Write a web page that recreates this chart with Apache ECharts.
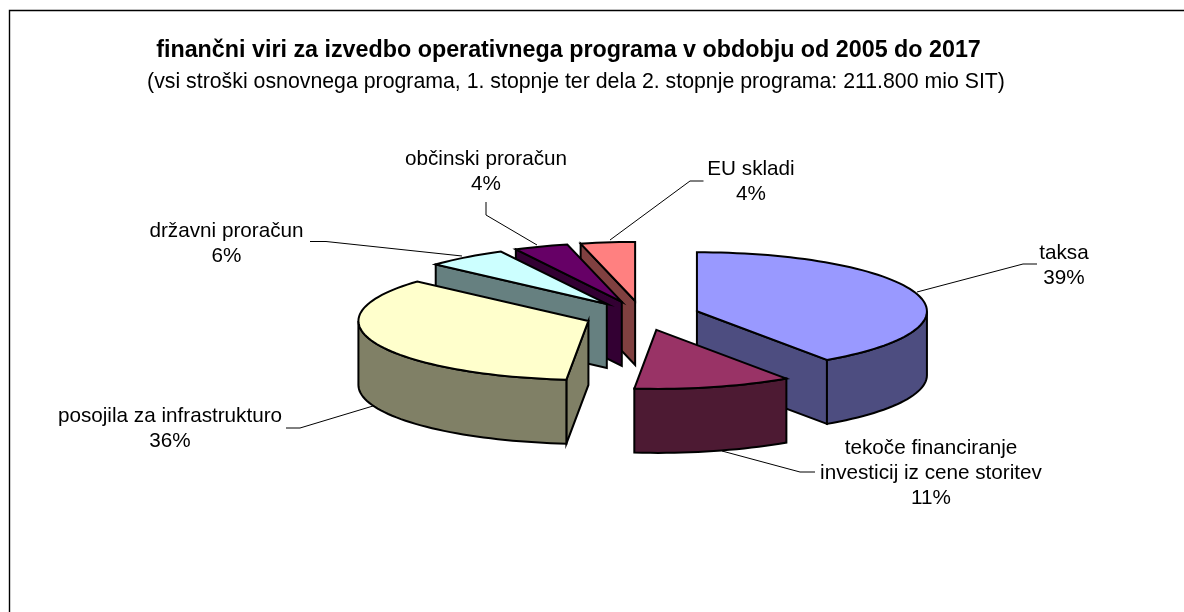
<!DOCTYPE html>
<html>
<head>
<meta charset="utf-8">
<style>html,body{margin:0;padding:0;background:#fff}#c{width:1184px;height:612px}</style>
<script src="https://cdn.jsdelivr.net/npm/echarts@6/dist/echarts.min.js"></script>
</head>
<body>
<div id="c"></div>
<script>
// ---- data ----
const categories = ['taksa', 'tekoče financiranje\ninvesticij iz cene storitev', 'posojila za infrastrukturo', 'državni proračun', 'občinski proračun', 'EU skladi'];
const values = [39, 11, 36, 6, 4, 4];
const topColors = ['#9999FF', '#993366', '#FFFFCC', '#CCFFFF', '#660066', '#FF8080'];
const sideColors = ['#4D4D80', '#4D1A33', '#808066', '#668080', '#330033', '#804040'];
const titleText = 'finančni viri za izvedbo operativnega programa v obdobju od 2005 do 2017';
const subtitleText = '(vsi stroški osnovnega programa, 1. stopnje ter dela 2. stopnje programa: 211.800 mio SIT)';

// ---- layout (painter's order, projection, label placement) ----
const drawOrder = [5, 4, 3, 2, 0, 1];
const view = {cx: 642, cy: 315.6, rx: 230, ry: 59, depth: 64, explode: 0.25, warp: 5.5};
const labelPos = [[1064, 265.5], [931, 473], [170, 429], [226.5, 244], [486, 172], [751, 182]];
const leaders = [
  [[1037, 264], [1023, 264], [917, 292]],
  [[815, 472], [800, 472], [722, 451]],
  [[286, 428], [300, 428], [373, 406]],
  [[310, 241.5], [326, 241.5], [462, 256]],
  [[486, 202], [486, 215], [537, 245]],
  [[703.5, 181], [690, 181], [610, 240]]
];

const total = values.reduce((a, b) => a + b, 0);
const rad = d => d * Math.PI / 180;
// pie angle -> angle on the tilted 3D view (Excel's 3D perspective shift)
const warp = d => d + view.warp * Math.sin(rad(d / 2));
let acc = 0;
const slices = values.map(v => {
  const s = warp(acc / total * 360);
  acc += v;
  const e = warp(acc / total * 360);
  const m = (s + e) / 2;
  return {
    s, e,
    ax: view.cx + view.explode * view.rx * Math.sin(rad(m)),
    ay: view.cy - view.explode * view.ry * Math.cos(rad(m))
  };
});

function renderSlice(params, api) {
  const i = api.value(0);
  const sl = slices[i];
  const pt = (d, h) => [sl.ax + view.rx * Math.sin(rad(d)), sl.ay - view.ry * Math.cos(rad(d)) + (h || 0)];
  const arc = (a, b, h) => {
    const n = Math.max(2, Math.ceil(Math.abs(b - a) / 2));
    const out = [];
    for (let k = 0; k <= n; k++) out.push(pt(a + (b - a) * k / n, h));
    return out;
  };
  const style = fill => ({fill, stroke: '#000', lineWidth: 2, lineJoin: 'miter'});
  const D = view.depth;
  const apex = [sl.ax, sl.ay], apexB = [sl.ax, sl.ay + D];
  const kids = [];
  const wall = d => kids.push({type: 'polygon', shape: {points: [apex, pt(d), pt(d, D), apexB]}, style: style(sideColors[i])});
  if (Math.sin(rad(sl.s)) < -1e-6) wall(sl.s);
  if (Math.sin(rad(sl.e)) > 1e-6) wall(sl.e);
  const a = Math.max(sl.s, 90), b = Math.min(sl.e, 270);
  if (b > a) {
    kids.push({type: 'polygon', shape: {points: arc(a, b, 0).concat(arc(b, a, D))}, style: style(sideColors[i])});
  }
  kids.push({type: 'polygon', shape: {points: [apex].concat(arc(sl.s, sl.e, 0))}, style: style(topColors[i])});
  kids.push({type: 'polyline', shape: {points: leaders[i]}, style: {fill: null, stroke: '#000', lineWidth: 1}});
  kids.push({
    type: 'text', x: labelPos[i][0], y: labelPos[i][1],
    style: {
      text: categories[i] + '\n' + values[i] + '%',
      x: 0, y: 0,
      font: '20.7px "Liberation Sans", Arial, sans-serif',
      fill: '#000', align: 'center', verticalAlign: 'middle', lineHeight: 25
    }
  });
  return {type: 'group', children: kids};
}

const chart = echarts.init(document.getElementById('c'), null, {renderer: 'canvas'});
chart.setOption({
  animation: false,
  backgroundColor: '#fff',
  title: [
    {text: titleText, left: 568.5, top: 38, textAlign: 'center', padding: 0,
     textStyle: {fontFamily: '"Liberation Sans", Arial, sans-serif', fontSize: 23.3, fontWeight: 'bold', color: '#000', lineHeight: 25}},
    {text: subtitleText, left: 576, top: 70, textAlign: 'center', padding: 0,
     textStyle: {fontFamily: '"Liberation Sans", Arial, sans-serif', fontSize: 21.3, fontWeight: 'normal', color: '#000', lineHeight: 25}}
  ],
  graphic: [
    {type: 'polyline', silent: true, shape: {points: [[9.5, 612], [9.5, 10.5], [1184, 10.5]]}, style: {fill: null, stroke: '#000', lineWidth: 1.4}}
  ],
  series: [{
    type: 'custom',
    coordinateSystem: 'none',
    silent: true,
    renderItem: renderSlice,
    data: drawOrder.map(i => [i, values[i]])
  }]
});
</script>
</body>
</html>
